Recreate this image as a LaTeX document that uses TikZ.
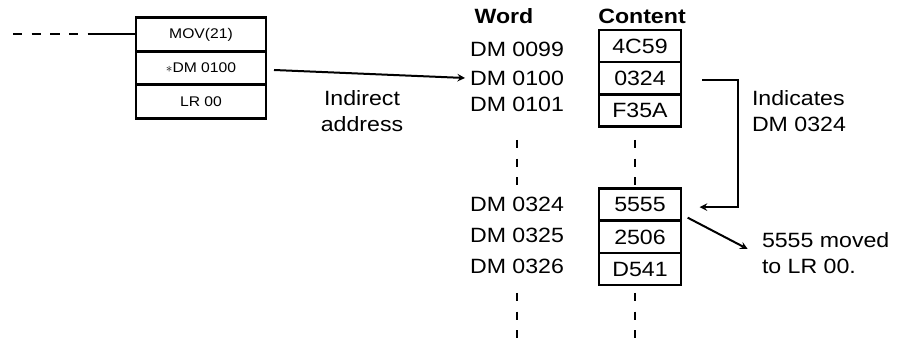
\documentclass[tikz,border=0pt]{standalone}
\usepackage{fontspec}
\setmainfont{Liberation Sans}[FakeStretch=1.12]
\tikzset{
  cell/.style={draw,line width=2pt,minimum width=82\unitlength,minimum height=32\unitlength,inner sep=0pt},
  ibox/.style={draw,line width=2pt,minimum width=130\unitlength,minimum height=33.5\unitlength,inner sep=0pt,font=\fontsize{10.5}{12}\selectfont},
  lbl/.style={inner sep=0pt,font=\fontsize{15.5}{19.5}\selectfont},
  vdots/.style={line width=1.8pt,dash pattern=on 6pt off 8pt},
}
\setlength{\unitlength}{0.75pt}
\begin{document}
\begin{tikzpicture}[>=stealth,x=0.75pt,y=-0.75pt,line width=1.5pt]
	\useasboundingbox (0,0) rectangle (901,345);
	% instruction block
	\node[ibox] (mov) at (201,34.5) {MOV(21)};
	\node[ibox] (ind) at (201,68) {{\normalsize$\ast$}DM 0100};
	\node[ibox] (lr) at (201,101.5) {LR 00};
	\coordinate (lead) at (13,34.5);
	\coordinate (rung) at (90,34.5);
	\draw[dash pattern=on 7pt off 7pt] (lead) -- (rung);
	\draw (rung) -- (mov.west);
	% headers
	\node[lbl,font=\fontsize{15.5}{17}\selectfont\bfseries] (hword) at (504,16) {Word};
	\node[lbl,font=\fontsize{15.5}{17}\selectfont\bfseries] (hcont) at (642,16) {Content};
	% words
	\node[lbl] (w1) at (517,49) {DM 0099};
	\node[lbl] (w2) at (517,78) {DM 0100};
	\node[lbl] (w3) at (517,104) {DM 0101};
	\node[lbl] (w4) at (517,204) {DM 0324};
	\node[lbl] (w5) at (517,235) {DM 0325};
	\node[lbl] (w6) at (517,266) {DM 0326};
	% contents
	\node[cell,font=\fontsize{15.5}{17}\selectfont] (c1) at (640,46) {4C59};
	\node[cell,font=\fontsize{15.5}{17}\selectfont] (c2) at (640,78) {0324};
	\node[cell,font=\fontsize{15.5}{17}\selectfont] (c3) at (640,110.5) {F35A};
	\node[cell,font=\fontsize{15.5}{17}\selectfont] (d1) at (640,204.5) {5555};
	\node[cell,font=\fontsize{15.5}{17}\selectfont] (d2) at (640,237) {2506};
	\node[cell,font=\fontsize{15.5}{17}\selectfont] (d3) at (640,269) {D541};
	% omitted words
	\draw[vdots] (517,140) -- (517,188);
	\draw[vdots] (635,140) -- (635,188);
	\draw[vdots] (517,293) -- (517,342);
	\draw[vdots] (635,293) -- (635,342);
	% labels
	\node[lbl,align=center] (indirect) at (362,111) {Indirect\\address};
	\node[lbl,align=left,anchor=west] (indicates) at (751,111.5) {Indicates\\DM 0324};
	\node[lbl,align=left,anchor=west] (moved) at (761,253) {5555 moved\\to LR 00.};
	% arrows
	\draw[->] ([xshift=5pt,yshift=-1.5pt]ind.east) -- ([xshift=-3pt]w2.west);
	\coordinate (ptr) at (738,80);
	\draw[->] ([xshift=15pt,yshift=-1.5pt]c2.east) -- (ptr) |- ([xshift=13pt,yshift=-2pt]d1.east);
	\draw[->] ([xshift=4pt,yshift=1.5pt]d2.north east) -- ([xshift=-10pt,yshift=3pt]moved.west);
\end{tikzpicture}
\end{document}
